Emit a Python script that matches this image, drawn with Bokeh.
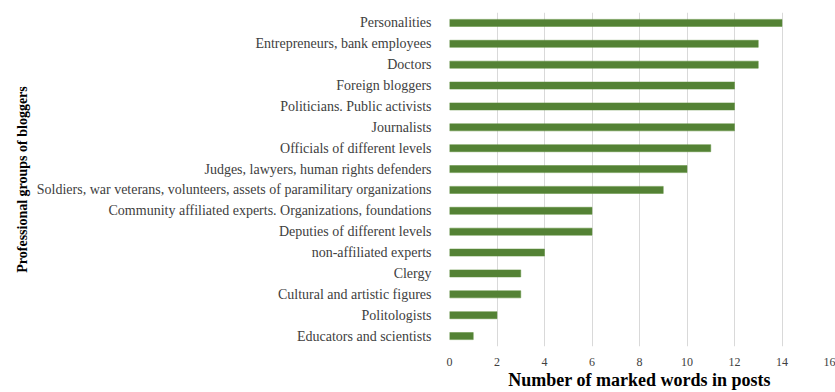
from bokeh.plotting import figure
from bokeh.models import FactorRange, Range1d, FixedTicker
from bokeh.embed import file_html
from bokeh.resources import INLINE

categories = [
    "Personalities",
    "Entrepreneurs, bank employees",
    "Doctors",
    "Foreign bloggers",
    "Politicians. Public activists",
    "Journalists",
    "Officials of different levels",
    "Judges, lawyers, human rights defenders",
    "Soldiers, war veterans, volunteers, assets of paramilitary organizations",
    "Community affiliated experts. Organizations, foundations",
    "Deputies of different levels",
    "non-affiliated experts",
    "Clergy",
    "Cultural and artistic figures",
    "Politologists",
    "Educators and scientists",
]
values = [14, 13, 13, 12, 12, 12, 11, 10, 9, 6, 6, 4, 3, 3, 2, 1]
x_ticks = [0, 2, 4, 6, 8, 10, 12, 14, 16]

FONT = "Liberation Serif"

p = figure(
    width=835, height=392,
    y_range=FactorRange(factors=list(reversed(categories)), range_padding=0),
    x_range=Range1d(0, 16),
    output_backend="svg", toolbar_location=None,
    min_border_left=449, min_border_right=6, min_border_top=12, min_border_bottom=43,
)
p.hbar(y=categories, right=values, left=0, height=0.34,
       fill_color="#548235", line_color="#5f8f3c", line_width=0.5)

p.outline_line_color = None
p.ygrid.grid_line_color = None
p.xgrid.grid_line_color = "#d9d9d9"
p.xgrid.grid_line_width = 1
p.xaxis.ticker = FixedTicker(ticks=x_ticks)
p.xaxis.axis_line_color = None
p.yaxis.axis_line_color = None
p.xaxis.major_tick_line_color = None
p.yaxis.major_tick_line_color = None
p.xaxis.minor_tick_line_color = None
p.xaxis.major_label_text_font = FONT
p.yaxis.major_label_text_font = FONT
p.xaxis.major_label_text_font_size = "12px"
p.yaxis.major_label_text_font_size = "14px"
p.xaxis.major_label_text_color = "#404040"
p.yaxis.major_label_text_color = "#404040"
p.xaxis.major_label_standoff = 5
p.yaxis.major_label_standoff = 12

p.xaxis.axis_label = "Number of marked words in posts"
p.yaxis.axis_label = "Professional groups of bloggers"
for ax in (p.xaxis, p.yaxis):
    ax.axis_label_text_font = FONT
    ax.axis_label_text_font_style = "bold"
    ax.axis_label_text_color = "#000000"
p.xaxis.axis_label_text_font_size = "18px"
p.yaxis.axis_label_text_font_size = "14px"
p.xaxis.axis_label_standoff = 1
p.yaxis.axis_label_standoff = 4

open("out.html", "w").write(file_html(p, INLINE))
